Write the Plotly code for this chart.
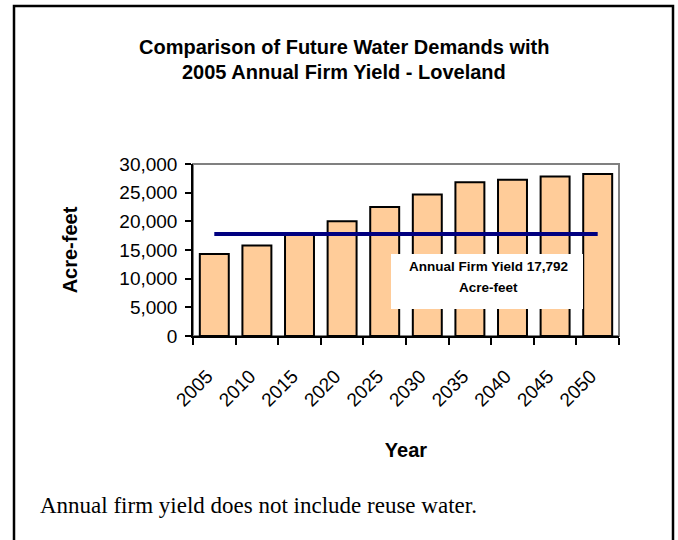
import plotly.graph_objects as go

# Projected water demand by year (acre-feet)
years = ["2005", "2010", "2015", "2020", "2025", "2030", "2035", "2040", "2045", "2050"]
demand = [14300, 15800, 17650, 20000, 22500, 24700, 26800, 27250, 27800, 28250]

# 2005 annual firm yield (acre-feet)
FIRM_YIELD = 17792

y_ticks = [0, 5000, 10000, 15000, 20000, 25000, 30000]

W, H = 678, 540
L, R, T, B = 193, 619, 164, 336  # plot area in pixels


def px_x(px):
    return (px - L) / (R - L)


def px_y(py):
    return (B - py) / (B - T)


fig = go.Figure()

fig.add_trace(go.Bar(
    x=years, y=demand,
    marker=dict(color="#FFCC99", line=dict(color="black", width=2)),
    showlegend=False, hoverinfo="x+y",
))

fig.add_trace(go.Scatter(
    x=[years[0], years[-1]], y=[FIRM_YIELD, FIRM_YIELD],
    mode="lines", line=dict(color="#000080", width=4),
    showlegend=False,
))

ax_font = dict(family="Liberation Sans, Arial", size=19, color="black")
bold_font = dict(family="Liberation Sans, Arial", size=20, color="black")

fig.update_layout(
    width=W, height=H,
    margin=dict(l=L, r=W - R, t=T, b=H - B, pad=0),
    paper_bgcolor="white", plot_bgcolor="white",
    bargap=0.32,
    xaxis=dict(
        type="category", tickson="boundaries", ticks="outside", ticklen=7,
        tickcolor="black", tickwidth=1.5, tickangle=-45, tickfont=ax_font,
        ticklabelstandoff=20, ticklabelshift=-7,
        showline=True, linecolor="black", linewidth=1.5, showgrid=False,
        title=dict(text="<b>Year</b>", font=bold_font, standoff=34),
    ),
    yaxis=dict(
        range=[0, 30000], tickvals=y_ticks, tickformat=",", ticks="outside", ticklen=6,
        tickcolor="black", tickwidth=1.5, tickfont=ax_font, ticklabelstandoff=4,
        showline=True, linecolor="black", linewidth=1.5, showgrid=False, zeroline=False,
        title=dict(text="<b>Acre-feet</b>", font=bold_font, standoff=36),
    ),
    shapes=[
        # plot area frame
        dict(type="rect", xref="paper", yref="paper", x0=0, x1=1, y0=0, y1=1,
             line=dict(color="#808080", width=2), layer="below"),
        # chart border
        dict(type="rect", xref="paper", yref="paper",
             x0=px_x(14), x1=px_x(673), y0=px_y(548), y1=px_y(6),
             line=dict(color="black", width=2.5)),
        # label box
        dict(type="rect", xref="paper", yref="paper",
             x0=px_x(391), x1=px_x(583), y0=px_y(309), y1=px_y(254),
             fillcolor="white", line=dict(width=0), layer="above"),
    ],
    annotations=[
        dict(text="<b>Comparison of Future Water Demands with</b>", xref="paper", yref="paper",
             x=px_x(343.5), y=px_y(47), xanchor="center", yanchor="middle", showarrow=False,
             font=bold_font),
        dict(text="<b>2005 Annual Firm Yield - Loveland</b>", xref="paper", yref="paper",
             x=px_x(343.5), y=px_y(72), xanchor="center", yanchor="middle", showarrow=False,
             font=bold_font),
        dict(text=f"<b>Annual Firm Yield {FIRM_YIELD:,}</b>", xref="paper", yref="paper",
             x=px_x(488), y=px_y(266), xanchor="center", yanchor="middle", showarrow=False,
             font=dict(family="Liberation Sans, Arial", size=13.5, color="black")),
        dict(text="<b>Acre-feet</b>", xref="paper", yref="paper",
             x=px_x(488), y=px_y(287), xanchor="center", yanchor="middle", showarrow=False,
             font=dict(family="Liberation Sans, Arial", size=13.5, color="black")),
        dict(text="Annual firm yield does not include reuse water.", xref="paper", yref="paper",
             x=px_x(38), y=px_y(505), xanchor="left", yanchor="middle", showarrow=False,
             font=dict(family="Liberation Serif, Times New Roman", size=23, color="black")),
    ],
)

fig.write_html("out.html")
